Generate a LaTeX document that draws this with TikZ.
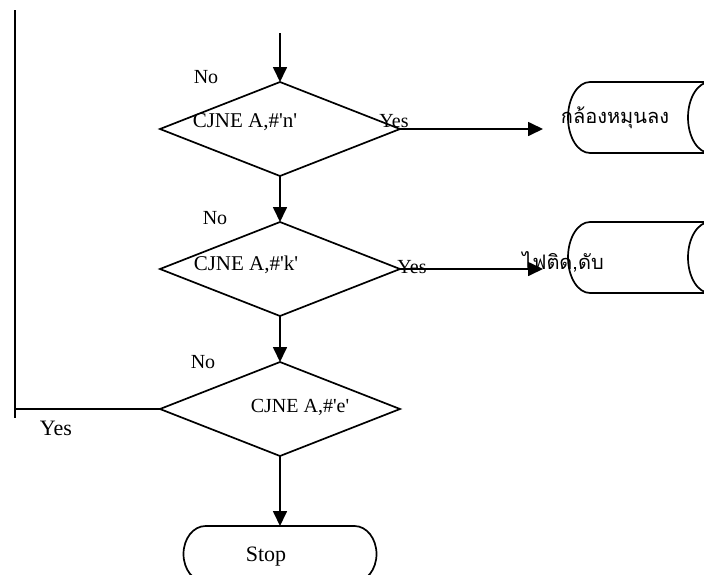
\documentclass[tikz,border=0pt]{standalone}
\usepackage{fontspec}
\setmainfont{Liberation Serif}
\newfontfamily\thaifont[Script=Thai]{Loma}
\usetikzlibrary{arrows.meta,shapes.geometric}
\newcommand{\sq}{\textquotesingle}

\begin{document}
\begin{tikzpicture}[x=1pt,y=1pt,
  line width=1.7pt,
  flow/.style={-{Triangle[length=15pt,width=14pt]}},
  decision/.style={diamond, draw, minimum width=240pt, minimum height=94pt,
    inner sep=0pt, outer sep=0pt},
  holder/.style={draw=none, rectangle, inner sep=0pt, outer sep=0pt},
  lbl/.style={font=\fontsize{20}{24}\selectfont, inner sep=0pt},
  cond/.style={font=\fontsize{21}{25}\selectfont, inner sep=0pt},
  thai/.style={font=\thaifont\fontsize{20}{24}\selectfont, inner sep=0pt}]
\useasboundingbox (0,0) rectangle (704,-574);
\clip (0,0) rectangle (704,-574);

% decisions
\node[decision] (d1) at (280,-129) {};
\node[decision] (d2) at (280,-269) {};
\node[decision] (d3) at (280,-409) {};

% horizontal drum outputs
\node[holder, minimum width=164pt, minimum height=71pt] (b1) at (650,-117.5) {};
\node[holder, minimum width=164pt, minimum height=71pt] (b2) at (650,-257.5) {};
\foreach \b in {b1,b2}{
  \draw ([xshift=22pt]\b.north west) -- ++(150pt,0)
        ([xshift=22pt]\b.north west)
        arc[start angle=90, end angle=270, x radius=22pt, y radius=35.5pt]
        -- ++(150pt,0);
  \draw ([xshift=142pt]\b.west) ellipse[x radius=22pt, y radius=35.5pt];
}

% terminator
\node[holder, minimum width=193pt, minimum height=56pt] (s) at (280,-554) {};
\draw ([xshift=22pt]s.north west) -- ([xshift=-22pt]s.north east)
      arc[start angle=90, end angle=-90, x radius=22pt, y radius=28pt]
      -- ([xshift=22pt]s.south west)
      arc[start angle=270, end angle=90, x radius=22pt, y radius=28pt];

% connectors
\coordinate (in) at (280,-33);
\coordinate (lt) at (15,-10);
\coordinate (lb) at (15,-418);
\draw[flow] (in) -- (d1.north);
\draw[flow] (d1.south) -- (d2.north);
\draw[flow] (d2.south) -- (d3.north);
\draw[flow] (d3.south) -- (s.north);
\draw[flow, shorten >=25pt] (d1.east) -- (d1.east -| b1.west);
\draw[flow, shorten >=25pt] (d2.east) -- (d2.east -| b2.west);
\draw (lt) -- (lb);
\draw (d3.west) -- (d3.west -| lt);

% texts
\node[cond] (t1) at (245,-122) {CJNE A,\#\sq n\sq};
\node[cond] (t2) at (246,-265) {CJNE A,\#\sq k\sq};
\node[lbl] (t3) at (300,-407) {CJNE A,\#\sq e\sq};
\node[lbl] (n1) at (206,-77) {No};
\node[lbl] (n2) at (215,-218) {No};
\node[lbl] (n3) at (203,-362) {No};
\node[lbl] (y1) at (394,-121) {Yes};
\node[lbl] (y2) at (412,-267) {Yes};
\node[lbl, font=\fontsize{22}{26}\selectfont] (y3) at (56,-428) {Yes};
\node[thai] (o1) at (615,-118) {กล้องหมุนลง};
\node[thai] (o2) at (563,-262) {ไฟติด,ดับ};
\node[lbl, font=\fontsize{22}{26}\selectfont] (st) at (266,-557) {Stop};
\end{tikzpicture}
\end{document}
